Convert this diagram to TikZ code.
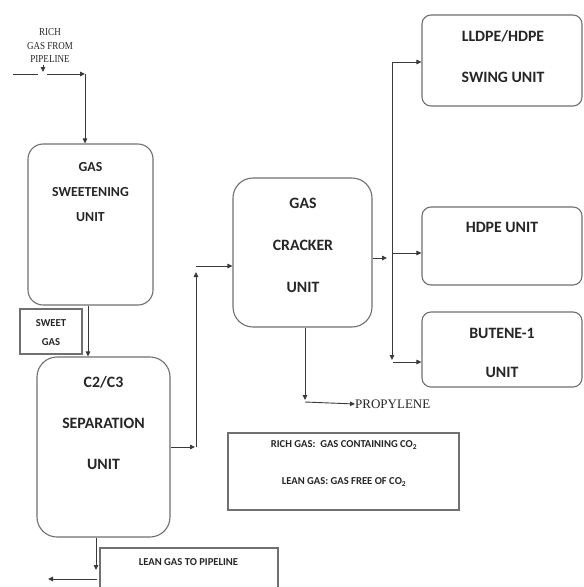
\documentclass[tikz,border=0pt]{standalone}
\usepackage{fontspec}
\setmainfont{Carlito}
\newfontfamily\carl{Carlito}
\newfontfamily\tms[FakeStretch=0.85]{Liberation Serif}
\newfontfamily\tmsn{Liberation Serif}
\usetikzlibrary{arrows.meta}
\definecolor{boxgray}{HTML}{707070}
\definecolor{linegray}{HTML}{3A3A3A}
\definecolor{txt}{HTML}{262626}
\begin{document}
\begin{tikzpicture}[x=1pt,y=-1pt,
  unitbox/.style={draw=boxgray,line width=1.1pt,inner sep=0pt,rounded corners=#1},
  unitbox/.default=14pt,
  sqbox/.style={draw=boxgray,line width=1.1pt,inner sep=0pt},
  wire/.style={draw=linegray,line width=0.9pt},
  flow/.style={wire,-{Triangle[length=5pt,width=4.5pt]}},
  big/.style={font=\carl\bfseries\fontsize{15.8}{18}\selectfont,text=txt,inner sep=0pt},
  mid/.style={font=\carl\bfseries\fontsize{13.8}{16}\selectfont,text=txt,inner sep=0pt},
  small/.style={font=\carl\bfseries\fontsize{10.6}{12}\selectfont,text=txt,inner sep=0pt},
  serif/.style={font=\tmsn\fontsize{13}{15}\selectfont,text=txt,inner sep=0pt},
]
\clip (0,0) rectangle (584,587);
\fill[white] (0,0) rectangle (584,587);

% boxes
\node[unitbox=15pt,minimum width=125pt,minimum height=161pt] (sweeten) at (90.5,224.5) {};
\node[sqbox,minimum width=62pt,minimum height=45pt] (sweetgas) at (51,331.5) {};
\node[unitbox=20pt,minimum width=133pt,minimum height=180pt] (sep) at (103.5,447) {};
\node[unitbox=20pt,minimum width=139pt,minimum height=149pt] (cracker) at (302.5,252.5) {};
\node[unitbox=9pt,minimum width=160pt,minimum height=91pt] (lldpe) at (502,60.5) {};
\node[unitbox=9pt,minimum width=160pt,minimum height=78pt] (hdpe) at (502,246) {};
\node[unitbox=9pt,minimum width=160pt,minimum height=75pt] (butene) at (502,349.5) {};
\node[sqbox,minimum width=231pt,minimum height=77pt] (legend) at (343.5,471.5) {};
\node[sqbox,minimum width=178pt,minimum height=60pt] (lean) at (189,578) {};

% texts
\node[mid] (t1) at (90.5,167) {GAS};
\node[mid] (t2) at (90.5,192) {SWEETENING};
\node[mid] (t3) at (90.5,217) {UNIT};
\node[small] (t4) at (51,323) {SWEET};
\node[small] (t5) at (51,342) {GAS};
\node[big] (t6) at (103.5,382) {C2/C3};
\node[big] (t7) at (103.5,423) {SEPARATION};
\node[big] (t8) at (103.5,464) {UNIT};
\node[big] (t9) at (303,203) {GAS};
\node[big] (t10) at (303,245) {CRACKER};
\node[big] (t11) at (303,287) {UNIT};
\node[big] (t12) at (503,36) {LLDPE/HDPE};
\node[big] (t13) at (503,77) {SWING UNIT};
\node[big] (t14) at (502,227) {HDPE UNIT};
\node[big] (t15) at (502,333) {BUTENE-1};
\node[big] (t16) at (502,372) {UNIT};
\node[small] (t17) at (344,445) {RICH GAS:\ \ GAS CONTAINING CO\textsubscript{2}};
\node[small] (t18) at (344,482) {LEAN GAS: GAS FREE OF CO\textsubscript{2}};
\node[small] (t19) at (188.5,562) {LEAN GAS TO PIPELINE};
\node[serif,anchor=west] (prop) at (355,404) {PROPYLENE};
\node[font=\tms\fontsize{10.6}{13.5}\selectfont,text=txt,align=center,inner sep=0pt] (rich) at (50,45.5) {RICH\\GAS FROM\\PIPELINE};

% feed
\coordinate (fa) at (13,74);
\coordinate (fb) at (38,74);
\coordinate (fc) at (47,74);
\coordinate (fd) at (85,74);
\coordinate (fm) at (43,65);
\coordinate (fn) at (43,72);
\draw[wire] (fa) -- (fb);
\draw[flow] (fc) -- (fd);
\draw[flow] (fm) -- (fn);
\draw[flow] (fd) -- (sweeten.north -| fd);

% sweetening -> separation
\draw[flow] ([xshift=-2.5pt]sweeten.south) -- ([xshift=-15.5pt]sep.north);

% separation -> cracker
\coordinate (sa) at (195,447);
\coordinate (sb) at (196,447);
\coordinate (sc) at (196,272);
\coordinate (sd) at (196,266);
\draw[flow] (sep.east) -- (sa);
\draw[flow] (sb) -- (sc);
\draw[flow] (sd) -- ([yshift=-13.5pt]cracker.west);

% cracker -> bus
\coordinate (ce) at (387,258);
\coordinate (bustop) at (392,62);
\coordinate (busbot) at (392,360);
\coordinate (bush) at (392,253);
\coordinate (busb) at (393,362);
\draw[flow] ([yshift=-5.5pt]cracker.east) -- (ce);
\draw[flow] (bustop) -- (busbot);
\draw[flow] (bustop) -- ([yshift=-1.5pt]lldpe.west);
\draw[flow] (bush) -- ([yshift=-7pt]hdpe.west);
\draw[flow] (busb) -- ([yshift=-12.5pt]butene.west);

% cracker -> propylene
\coordinate (pa) at (305,400);
\coordinate (pb) at (305,402);
\draw[flow] ([xshift=2.5pt]cracker.south) -- (pa);
\draw[flow] (pb) -- (prop.west);

% separation -> lean gas
\coordinate (la) at (96,570);
\coordinate (lb) at (97,579);
\coordinate (lc) at (48,579);
\draw[flow] ([xshift=-7.5pt]sep.south) -- (la);
\draw[flow] (lb) -- (lc);
\end{tikzpicture}
\end{document}
